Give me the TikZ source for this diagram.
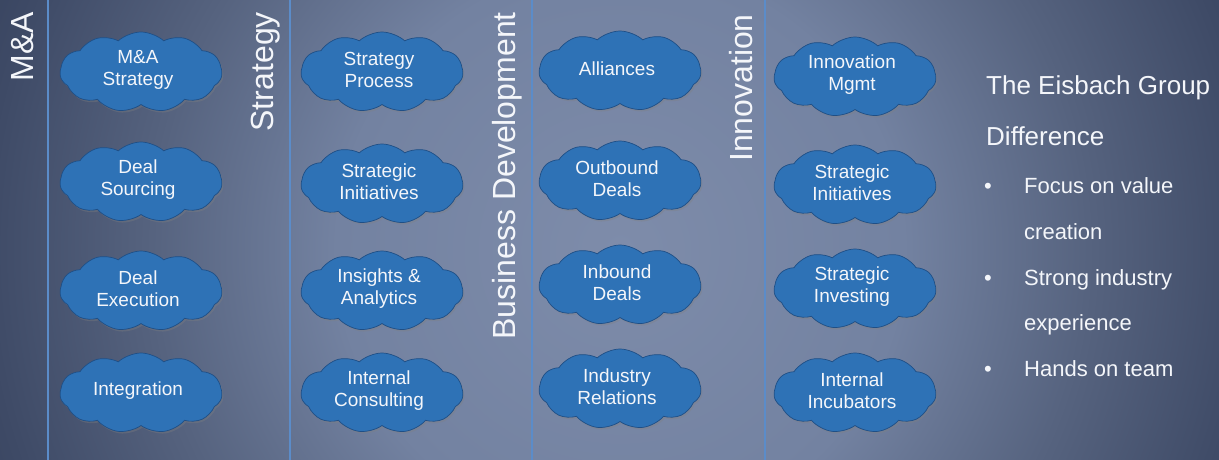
\documentclass[tikz,border=0pt]{standalone}
\usepackage{fontspec}
\setmainfont{Liberation Sans}
\usetikzlibrary{shapes.symbols,shadows}
\definecolor{cloudfill}{HTML}{2E72B6}
\definecolor{clouddraw}{HTML}{1F4F86}
\definecolor{sepline}{HTML}{5B8CC9}
\definecolor{bgA}{HTML}{7E8CAA}
\definecolor{bgB}{HTML}{7382A1}
\definecolor{bgC}{HTML}{56637F}
\definecolor{bgD}{HTML}{3E4A66}
\definecolor{bgE}{HTML}{28334B}
\definecolor{bgF}{HTML}{1E283E}
\definecolor{txt}{HTML}{F4F6FA}
\pgfdeclareradialshading{bgshade}{\pgfpoint{0bp}{0bp}}{color(0bp)=(bgA); color(10.9bp)=(bgB); color(18bp)=(bgC); color(24.5bp)=(bgD); color(32.6bp)=(bgE); color(38bp)=(bgF); color(50bp)=(bgF)}
\begin{document}
\begin{tikzpicture}[x=1pt,y=-1pt,
  cloudtext/.style={text=txt, align=center, inner sep=0pt, font=\fontsize{19}{22}\selectfont},
  cloudbox/.style={cloud, cloud puffs=11, cloud puff arc=85, aspect=2.2,
    draw=clouddraw, line width=0.7pt, fill=cloudfill,
    minimum width=162pt, minimum height=80pt, inner sep=0pt,
    drop shadow={opacity=0.35, shadow xshift=1.5pt, shadow yshift=-2pt},
    label={[cloudtext, xshift=-3pt, yshift=2pt]center:{#1}}},
  hdr/.style={text=txt, rotate=90, anchor=base east, inner sep=0pt, font=\fontsize{32}{36}\selectfont},
  side/.style={text=txt, anchor=base west, inner sep=0pt},
  sidebig/.style={side, font=\fontsize{26}{30}\selectfont},
  sidesmall/.style={side, font=\fontsize{22}{26}\selectfont},
  sepl/.style={draw=sepline, line width=1.2pt}]
\useasboundingbox (0,0) rectangle (1219,460);
\begin{scope}
\clip (0,0) rectangle (1219,460);
\shade[shading=bgshade] (-30,-400) rectangle (1270,900);
\end{scope}
% separators
\coordinate (s1t) at (48,0);  \coordinate (s1b) at (48,460);
\coordinate (s2t) at (290,0); \coordinate (s2b) at (290,460);
\coordinate (s3t) at (532,0); \coordinate (s3b) at (532,460);
\coordinate (s4t) at (765,0); \coordinate (s4b) at (765,460);
\draw[sepl] (s1t) -- (s1b);
\draw[sepl] (s2t) -- (s2b);
\draw[sepl] (s3t) -- (s3b);
\draw[sepl] (s4t) -- (s4b);
% headers
\node[hdr] (hma) at (33,12) {M\&A};
\node[hdr] (hst) at (273,12) {Strategy};
\node[hdr] (hbd) at (515,12) {Business Development};
\node[hdr] (hin) at (752,14) {Innovation};
% column 1
\node[cloudbox={M\&A\\Strategy}] (c11) at (141,72) {};
\node[cloudbox={Deal\\Sourcing}] (c12) at (141,182) {};
\node[cloudbox={Deal\\Execution}] (c13) at (141,291) {};
\node[cloudbox={Integration}] (c14) at (141,393) {};
% column 2
\node[cloudbox={Strategy\\Process}] (c21) at (382,72) {};
\node[cloudbox={Strategic\\Initiatives}] (c22) at (382,184) {};
\node[cloudbox={Insights \&\\Analytics}] (c23) at (382,291) {};
\node[cloudbox={Internal\\Consulting}] (c24) at (382,393) {};
% column 3
\node[cloudbox={Alliances}] (c31) at (620,71) {};
\node[cloudbox={Outbound\\Deals}] (c32) at (620,181) {};
\node[cloudbox={Inbound\\Deals}] (c33) at (620,285) {};
\node[cloudbox={Industry\\Relations}] (c34) at (620,389) {};
% column 4
\node[cloudbox={Innovation\\Mgmt}] (c41) at (855,77) {};
\node[cloudbox={Strategic\\Initiatives}] (c42) at (855,185) {};
\node[cloudbox={Strategic\\Investing}] (c43) at (855,289) {};
\node[cloudbox={Internal\\Incubators}] (c44) at (855,393) {};
% side text
\node[sidebig] (t1) at (986,95) {The Eisbach Group};
\node[sidebig] (t2) at (986,146) {Difference};
\node[sidesmall] (b1) at (984,193) {•};
\node[sidesmall] (l1) at (1024,193) {Focus on value};
\node[sidesmall] (l2) at (1024,239) {creation};
\node[sidesmall] (b2) at (984,285) {•};
\node[sidesmall] (l3) at (1024,285) {Strong industry};
\node[sidesmall] (l4) at (1024,330) {experience};
\node[sidesmall] (b3) at (984,376) {•};
\node[sidesmall] (l5) at (1024,376) {Hands on team};
\end{tikzpicture}
\end{document}
